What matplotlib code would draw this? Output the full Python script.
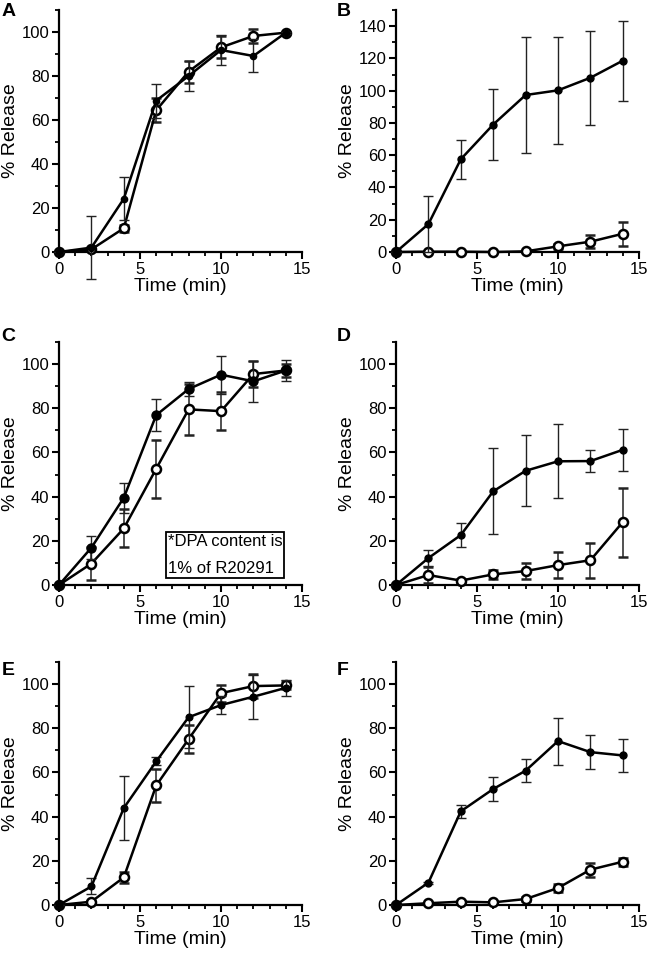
import numpy as np
import matplotlib
matplotlib.use("Agg")
import matplotlib.pyplot as plt
from matplotlib.ticker import MultipleLocator

plt.rcParams['font.family'] = ['Liberation Sans', 'DejaVu Sans']

time = np.array([0, 2, 4, 6, 8, 10, 12, 14])

# panel A
A_filled = np.array([0, 2.0, 24.2, 68.8, 80.0, 91.8, 89.1, 99.7])
A_filled_err = np.array([0, 14.5, 9.7, 7.7, 7.0, 7.0, 7.5, 0.5])
A_open = np.array([0, 1.2, 10.8, 64.4, 82.0, 93.0, 98.2, 99.7])
A_open_err = np.array([0, 0.5, 1.5, 5.5, 5.0, 5.0, 3.0, 0.5])

# panel B
B_filled = np.array([0, 17.3, 57.5, 79.0, 97.3, 100.2, 108.0, 118.6])
B_filled_err = np.array([0, 17.3, 12.0, 22.0, 36.0, 33.0, 29.0, 24.8])
B_open = np.array([0, 0.2, 0.2, 0.0, 0.4, 3.5, 6.4, 11.3])
B_open_err = np.array([0, 0.2, 0.2, 0.2, 0.3, 1.5, 4.0, 7.5])

# panel C
C_filled = np.array([0, 16.9, 39.5, 76.9, 88.7, 95.2, 92.2, 97.1])
C_filled_err = np.array([0, 5.3, 6.8, 7.3, 3.0, 8.6, 9.2, 4.8])
C_open = np.array([0, 9.7, 25.6, 52.6, 79.5, 78.7, 95.5, 97.1])
C_open_err = np.array([0, 7.4, 8.6, 13.0, 11.7, 8.5, 6.0, 3.0])

# panel D
D_filled = np.array([0, 12.2, 22.6, 42.4, 51.7, 56.0, 56.1, 61.2])
D_filled_err = np.array([0, 3.6, 5.3, 19.5, 16.0, 16.8, 4.8, 9.5])
D_open = np.array([0, 4.5, 2.0, 4.8, 6.3, 9.0, 11.2, 28.5])
D_open_err = np.array([0, 3.5, 0.8, 2.0, 3.6, 5.8, 8.0, 15.6])

# panel E
E_filled = np.array([0, 8.4, 43.9, 65.0, 85.0, 90.5, 94.3, 98.3])
E_filled_err = np.array([0, 3.6, 14.4, 1.8, 14.0, 3.9, 10.0, 3.6])
E_open = np.array([0, 1.5, 12.5, 54.1, 75.1, 95.9, 99.1, 99.4])
E_open_err = np.array([0, 0.5, 2.5, 7.5, 6.2, 3.8, 5.4, 1.8])

# panel F
F_filled = np.array([0, 10.1, 42.4, 52.5, 60.8, 74.2, 69.2, 67.7])
F_filled_err = np.array([0, 0.5, 2.9, 5.6, 5.1, 10.6, 7.7, 7.6])
F_open = np.array([0, 0.8, 1.5, 1.2, 2.7, 7.7, 16.0, 19.6])
F_open_err = np.array([0, 0.3, 0.5, 0.4, 0.8, 2.0, 3.2, 1.8])

panels = [
    ('A', A_filled, A_filled_err, A_open, A_open_err, 110, 4.5),
    ('B', B_filled, B_filled_err, B_open, B_open_err, 150, 5.0),
    ('C', C_filled, C_filled_err, C_open, C_open_err, 110, 6.5),
    ('D', D_filled, D_filled_err, D_open, D_open_err, 110, 5.0),
    ('E', E_filled, E_filled_err, E_open, E_open_err, 110, 4.8),
    ('F', F_filled, F_filled_err, F_open, F_open_err, 110, 5.0),
]

W, H = 650, 955
fig = plt.figure(figsize=(W / 100, H / 100), dpi=100)

# axes boxes in pixels
col_x = [(59, 302), (396, 639)]
row_y = [(10, 252), (342, 585), (662, 905)]
label_pos = [(2, 16), (337, 16), (1, 341), (337, 341), (2, 675), (337, 675)]

for i, (name, yf, ef, yo, eo, ymax, fms) in enumerate(panels):
    r, c = divmod(i, 2)
    x0, x1 = col_x[c]
    y0, y1 = row_y[r]
    ax = fig.add_axes([x0 / W, 1 - y1 / H, (x1 - x0) / W, (y1 - y0) / H])

    ax.errorbar(time, yo, yerr=eo, fmt='-o', color='k', mfc='white', mec='k',
                mew=1.8, ms=6.5, lw=1.8, ecolor='#222222', elinewidth=1.1,
                capsize=3.5, capthick=1.1, clip_on=False, zorder=3)
    ax.errorbar(time, yf, yerr=ef, fmt='-o', color='k', mfc='k', mec='k',
                ms=fms, lw=1.8, ecolor='#222222', elinewidth=1.0,
                capsize=3.5, capthick=1.0, clip_on=False, zorder=4)

    ax.set_xlim(0, 15)
    ax.set_ylim(0, ymax)
    ax.xaxis.set_major_locator(MultipleLocator(5))
    ax.xaxis.set_minor_locator(MultipleLocator(1))
    ax.yaxis.set_major_locator(MultipleLocator(20))
    ax.yaxis.set_minor_locator(MultipleLocator(10))
    for s in ['top', 'right']:
        ax.spines[s].set_visible(False)
    for s in ['left', 'bottom']:
        ax.spines[s].set_linewidth(1.6)
    ax.tick_params(which='major', direction='out', length=5, width=1.5,
                   labelsize=12, pad=2)
    ax.tick_params(which='minor', direction='out', length=3, width=1.3)
    ax.set_xlabel('Time (min)', fontsize=14, labelpad=1)
    ax.set_ylabel('% Release', fontsize=14, labelpad=2)

    fig.text(label_pos[i][0] / W, 1 - label_pos[i][1] / H, name,
             fontsize=14, fontweight='bold', ha='left', va='baseline')

    if name == 'C':
        ax.text(6.72, 4.0, '*DPA content is\n1% of R20291', fontsize=12,
                ha='left', va='bottom', linespacing=2.0,
                bbox=dict(boxstyle='square,pad=0.1', fc='white', ec='k', lw=1.3),
                zorder=5)

fig.savefig('out.png', dpi=100)
